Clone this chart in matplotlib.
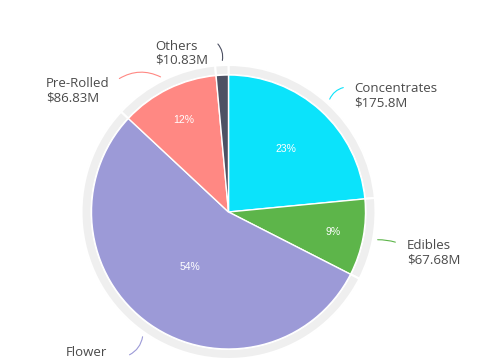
import numpy as np
import matplotlib.pyplot as plt

categories = ['Concentrates', 'Edibles', 'Flower', 'Pre-Rolled', 'Others']
sales = [175.8, 67.68, 407.8, 86.83, 10.83]   # $M
value_labels = ['$175.8M', '$67.68M', '', '$86.83M', '$10.83M']
colors = ['#0be3fb', '#5db54a', '#9c9ad7', '#ff8883', '#4d5163']

fig = plt.figure(figsize=(4.89, 3.6), dpi=100)
ax = fig.add_axes([0, 0, 1, 1])

cx, cy = 228.5, 148
r_pie, r_ring = 137, 147

# light grey outer ring
ax.pie(sales, radius=r_ring, center=(cx, cy), startangle=90, counterclock=False,
       colors=['#efefef'] * len(sales),
       wedgeprops=dict(width=r_ring - r_pie, edgecolor='white', linewidth=1.5))

total = sum(sales)
pct_dist = [0.62, 0.78, 0.49, 0.75, 0.6]
wedges, _ = ax.pie(sales, radius=r_pie, center=(cx, cy), startangle=90, counterclock=False,
                   colors=colors, wedgeprops=dict(edgecolor='white', linewidth=1))

# label positions (pixel coords from top-left) and leader line ends
label_xy = [(354, 96), (407, 252.5), (66, 352), (46, 90.5), (155, 53)]
line_end = [(346, 87), (398, 243), (127, 356), (117, 80), (216, 42)]
rads = [0.3, 0.1, 0.3, -0.3, -0.3]

for i, w in enumerate(wedges):
    mid = np.deg2rad((w.theta1 + w.theta2) / 2)
    frac = sales[i] / total
    if frac > 0.05:
        d = pct_dist[i] * r_pie
        ax.text(cx + d * np.cos(mid), cy + d * np.sin(mid), f'{frac * 100:.0f}%',
                ha='center', va='center', color='white', fontsize=7.5,
                family='Liberation Sans')
    sx, sy = cx + 149 * np.cos(mid), cy + 149 * np.sin(mid)
    ex, ey = line_end[i]
    ax.annotate('', xy=(sx, sy), xytext=(ex, 360 - ey),
                arrowprops=dict(arrowstyle='-', color=colors[i], lw=0.8,
                                connectionstyle=f'arc3,rad={rads[i]}'))
    txt = categories[i] if not value_labels[i] else categories[i] + '\n' + value_labels[i]
    lx, ly = label_xy[i]
    ax.text(lx, 360 - ly, txt, ha='left', va='center', fontsize=9.5,
            color='#4a4a4a', family='Open Sans', linespacing=1.1)

ax.set_xlim(0, 489)
ax.set_ylim(0, 360)
ax.set_aspect('equal')
ax.axis('off')

fig.savefig('out.png', dpi=100)
